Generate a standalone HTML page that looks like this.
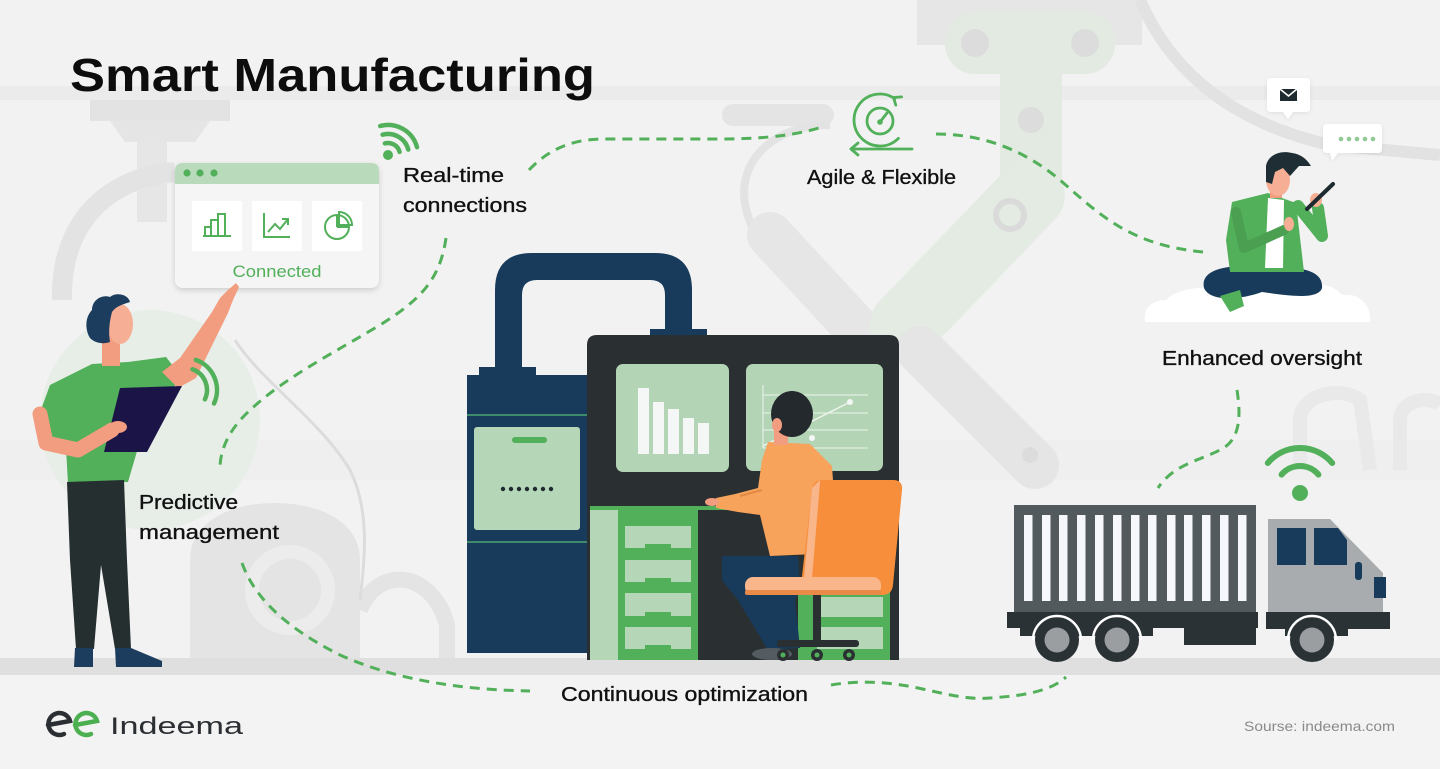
<!DOCTYPE html>
<html><head><meta charset="utf-8">
<style>
html,body{margin:0;padding:0;background:#f2f2f2;}
svg{display:block;}
text{font-family:"Liberation Sans",Arial,sans-serif;}
</style></head>
<body>
<svg width="1440" height="769" viewBox="0 0 1440 769" xmlns="http://www.w3.org/2000/svg">
<defs>
<filter id="sh" x="-10%" y="-10%" width="120%" height="130%"><feDropShadow dx="0" dy="2" stdDeviation="3" flood-color="#000" flood-opacity="0.16"/></filter>
<filter id="sh2" x="-20%" y="-20%" width="140%" height="150%"><feDropShadow dx="0" dy="1" stdDeviation="2" flood-color="#000" flood-opacity="0.08"/></filter>
</defs>
<rect width="1440" height="769" fill="#f2f2f2"/>

<!-- ===== faint background ===== -->
<rect x="0" y="86" width="1440" height="14" fill="#ebebeb"/>
<rect x="0" y="440" width="1440" height="40" fill="#efefef"/>
<rect x="90" y="100" width="140" height="21" fill="#e3e3e3"/>
<polygon points="110,121 210,121 195,142 125,142" fill="#e5e5e5"/>
<rect x="137" y="142" width="30" height="80" fill="#e6e6e6"/>
<path d="M62,300 C60,225 105,178 175,172" stroke="#e3e3e3" stroke-width="20" fill="none"/>
<circle cx="150" cy="420" r="110" fill="#e7eee7"/>
<path d="M190,660 L190,560 C190,522 230,503 275,503 C320,503 360,522 360,560 L360,660 Z" fill="#e4e4e4"/>
<circle cx="290" cy="590" r="38" stroke="#ececec" stroke-width="14" fill="none"/>
<path d="M360,610 C378,565 432,570 447,625 L447,660" stroke="#e4e4e4" stroke-width="16" fill="none"/>
<path d="M235,340 C260,380 320,420 350,470 C370,510 365,560 360,600" stroke="#dcdcdc" stroke-width="3" fill="none"/>
<rect x="722" y="104" width="112" height="22" rx="11" fill="#e4e4e4"/>
<path d="M830,125 C760,125 720,180 760,240" stroke="#e3e3e3" stroke-width="8" fill="none"/>
<line x1="770" y1="235" x2="858" y2="330" stroke="#e6e6e6" stroke-width="46" stroke-linecap="round"/>
<rect x="917" y="0" width="225" height="45" fill="#e6e6e6"/>
<rect x="945" y="12" width="170" height="62" rx="30" fill="#e2eae2"/>
<circle cx="975" cy="43" r="14" fill="#dcdcdc"/>
<circle cx="1085" cy="43" r="14" fill="#dcdcdc"/>
<rect x="1000" y="70" width="62" height="115" fill="#e2eae2"/>
<circle cx="1031" cy="120" r="13" fill="#dcdcdc"/>
<line x1="1030" y1="195" x2="905" y2="325" stroke="#e3ebe3" stroke-width="70" stroke-linecap="round"/>
<circle cx="1010" cy="215" r="14" stroke="#dadada" stroke-width="6" fill="none"/>
<line x1="920" y1="350" x2="1035" y2="465" stroke="#e5e5e5" stroke-width="48" stroke-linecap="round"/>
<circle cx="1030" cy="455" r="8" fill="#dcdcdc"/>
<path d="M1140,0 C1170,70 1230,122 1330,145 L1440,155" stroke="#e2e2e2" stroke-width="12" fill="none"/>
<path d="M1300,470 L1300,420 C1300,395 1340,385 1360,400 L1370,470" stroke="#e9e9e9" stroke-width="14" fill="none"/>
<path d="M1400,470 L1400,420 C1400,400 1430,395 1440,405" stroke="#e9e9e9" stroke-width="14" fill="none"/>
<rect x="0" y="658" width="1440" height="17" fill="#dfdfdf"/>
<rect x="0" y="675" width="1440" height="94" fill="#f3f3f3"/>

<!-- ===== dashed connectors ===== -->
<g stroke="#52b05a" stroke-width="3" fill="none" stroke-dasharray="10 7" stroke-linecap="butt">
<path d="M529,170 C548,150 570,140 600,139 L720,139 C770,139 800,134 822,127"/>
<path d="M936,134 C990,134 1030,155 1060,180 C1100,215 1130,245 1203,252"/>
<path d="M446,238 C440,280 420,300 380,325 C330,355 280,380 245,415 C225,435 220,455 220,468"/>
<path d="M242,563 C255,600 290,630 340,655 C400,682 470,690 530,691"/>
<path d="M831,685 C860,680 890,682 918,688 C950,695 970,700 990,698 C1020,696 1050,692 1066,677"/>
<path d="M1237,390 C1240,410 1242,435 1225,447 C1205,460 1175,462 1158,488"/>
</g>

<!-- ===== title & labels ===== -->
<text x="70" y="91" font-size="46" font-weight="bold" fill="#0d0d0d" textLength="525" lengthAdjust="spacingAndGlyphs">Smart Manufacturing</text>
<g font-size="20" fill="#111" stroke="#111" stroke-width="0.35">
<text x="403" y="182" textLength="101" lengthAdjust="spacingAndGlyphs">Real-time</text>
<text x="403" y="212" textLength="124" lengthAdjust="spacingAndGlyphs">connections</text>
<text x="807" y="184" textLength="149" lengthAdjust="spacingAndGlyphs">Agile &amp; Flexible</text>
<text x="1162" y="365" textLength="200" lengthAdjust="spacingAndGlyphs">Enhanced oversight</text>
<text x="139" y="509" textLength="99" lengthAdjust="spacingAndGlyphs">Predictive</text>
<text x="139" y="539" textLength="140" lengthAdjust="spacingAndGlyphs">management</text>
<text x="561" y="701" textLength="247" lengthAdjust="spacingAndGlyphs">Continuous optimization</text>
</g>

<!-- ===== card ===== -->
<g filter="url(#sh)">
<rect x="175" y="163" width="204" height="125" rx="8" fill="#f5f5f5"/>
</g>
<path d="M183,163 L371,163 Q379,163 379,171 L379,184 L175,184 L175,171 Q175,163 183,163 Z" fill="#b9dbbc"/>
<circle cx="187" cy="173" r="3.6" fill="#52b05a"/>
<circle cx="200" cy="173" r="3.6" fill="#52b05a"/>
<circle cx="214" cy="173" r="3.6" fill="#52b05a"/>
<rect x="192" y="201" width="50" height="50" fill="#ffffff"/>
<rect x="252" y="201" width="50" height="50" fill="#ffffff"/>
<rect x="312" y="201" width="50" height="50" fill="#ffffff"/>
<g stroke="#52b05a" stroke-width="2" fill="none">
<line x1="203" y1="236" x2="231" y2="236"/>
<rect x="205" y="227" width="6" height="9"/>
<rect x="211" y="220" width="7" height="16"/>
<rect x="218" y="214" width="7" height="22"/>
<polyline points="264,213 264,237 290,237"/>
<polyline points="268,232 275,224 280,229 288,219"/>
<polyline points="282,219 288,219 288,225"/>
<circle cx="337" cy="227" r="12"/>
<path d="M337,227 L337,215 M337,227 L349,227"/>
<path d="M339,225 L339,212 A13,13 0 0 1 352,225 Z"/>
</g>
<text x="277" y="277" font-size="17" fill="#52b05a" text-anchor="middle" textLength="89" lengthAdjust="spacingAndGlyphs">Connected</text>

<circle cx="388" cy="155" r="5" fill="#52b05a"/>
<g stroke="#52b05a" stroke-width="4.5" fill="none" stroke-linecap="round">
<path d="M384.9,143.4 A12,12 0 0 1 399.6,151.9"/>
<path d="M382.6,134.7 A21,21 0 0 1 408.3,149.6"/>
<path d="M380.2,126 A30,30 0 0 1 417,147.2"/>
</g>

<g stroke="#52b05a" stroke-width="2.8" fill="none" stroke-linecap="round" stroke-linejoin="round">
<circle cx="880" cy="121" r="13"/>
<line x1="880" y1="122" x2="887" y2="113"/>
<path d="M894.9,98.7 A26,26 0 1 0 898.4,138.4"/>
<polyline points="901.6,96.9 893.5,97.5 895.8,105.1"/>
<line x1="851" y1="149" x2="912" y2="149"/>
<polyline points="858,143 851,149 858,155"/>
</g>
<circle cx="880" cy="122" r="2.8" fill="#52b05a"/>

<!-- ===== left man ===== -->
<polygon points="38,418 50,385 92,364 128,362 166,357 184,380 152,400 128,482 68,484 66,448 44,440" fill="#52b05a"/>
<polygon points="162,372 180,358 212,312 220,298 228,290 236,283 239,287 233,300 228,313 196,378 178,388" fill="#f29c80"/>
<rect x="102" y="336" width="18" height="30" fill="#f29c80"/>
<ellipse cx="120" cy="324" rx="13" ry="20" fill="#f6ae94"/>
<path d="M90,338 C84,328 86,316 92,310 C92,300 102,294 110,297 C116,292 128,294 130,302 C124,304 116,306 112,312 C110,320 108,330 110,342 C104,344 96,344 90,338 Z" fill="#1c3d5e"/>
<polygon points="67,482 124,480 127,560 131,649 115,649 101,565 94,649 76,649 70,560" fill="#262f30"/>
<path d="M75,648 L93,648 L93,667 L74,667 Z" fill="#1c3d5e"/>
<path d="M115,648 L131,648 L162,661 L162,667 L116,667 Z" fill="#1c3d5e"/>
<polygon points="120,388 182,386 147,452 104,452" fill="#1b1547"/>
<path d="M40,414 L46,443 L78,450 L112,430" stroke="#f29c80" stroke-width="15" fill="none" stroke-linejoin="round" stroke-linecap="round"/>
<ellipse cx="118" cy="427" rx="9" ry="6" fill="#f29c80"/>
<g stroke="#52b05a" stroke-width="4.5" fill="none" stroke-linecap="round">
<path d="M192.5,369.3 A22,22 0 0 1 204.9,399.3"/>
<path d="M195.9,359.9 A32,32 0 0 1 214,403.5"/>
</g>

<!-- ===== center machine ===== -->
<path d="M495,372 L495,290 Q495,253 532,253 L655,253 Q692,253 692,290 L692,332 L665,332 L665,295 Q665,280 650,280 L537,280 Q522,280 522,295 L522,372 Z" fill="#183b5b"/>
<rect x="479" y="367" width="57" height="9" fill="#183b5b"/>
<rect x="650" y="329" width="57" height="8" fill="#183b5b"/>
<rect x="467" y="375" width="122" height="278" fill="#183b5b"/>
<rect x="467" y="414" width="121" height="2" fill="#3e8a6a"/>
<rect x="467" y="541" width="121" height="2" fill="#3e8a6a"/>
<rect x="474" y="427" width="106" height="103" rx="3" fill="#b5d6b7"/>
<rect x="512" y="437" width="35" height="6" rx="3" fill="#52b05a"/>
<g fill="#1f2a2e">
<circle cx="503" cy="489" r="2.2"/><circle cx="511" cy="489" r="2.2"/><circle cx="519" cy="489" r="2.2"/><circle cx="527" cy="489" r="2.2"/><circle cx="535" cy="489" r="2.2"/><circle cx="543" cy="489" r="2.2"/><circle cx="551" cy="489" r="2.2"/>
</g>
<path d="M597,335 L889,335 Q899,335 899,345 L899,660 L587,660 L587,345 Q587,335 597,335 Z" fill="#2a3032"/>
<rect x="616" y="364" width="113" height="108" rx="7" fill="#b3d4b5"/>
<rect x="746" y="364" width="137" height="107" rx="7" fill="#b3d4b5"/>
<g fill="#f4f7f5">
<rect x="638" y="388" width="11" height="66"/>
<rect x="653" y="402" width="11" height="52"/>
<rect x="668" y="409" width="11" height="45"/>
<rect x="683" y="418" width="11" height="36"/>
<rect x="698" y="423" width="11" height="31"/>
</g>
<g stroke="#eef5ef" stroke-width="1" fill="none">
<line x1="763" y1="385" x2="763" y2="448"/>
<line x1="763" y1="448" x2="868" y2="448"/>
<line x1="763" y1="395" x2="868" y2="395"/>
<line x1="763" y1="413" x2="868" y2="413"/>
<line x1="763" y1="430" x2="868" y2="430"/>
<line x1="763" y1="446" x2="850" y2="402" stroke-width="1.5"/>
</g>
<circle cx="850" cy="402" r="3" fill="#f4f7f5"/>
<circle cx="812" cy="438" r="3" fill="#f4f7f5"/>
<rect x="590" y="509" width="28" height="151" fill="#b5d6b7"/>
<rect x="618" y="509" width="80" height="151" fill="#52b05a"/>
<rect x="590" y="506" width="180" height="4" fill="#52b05a"/>
<g fill="#b5d6b7">
<rect x="625" y="526" width="66" height="22"/>
<rect x="625" y="560" width="66" height="22"/>
<rect x="625" y="593" width="66" height="23"/>
<rect x="625" y="627" width="66" height="22"/>
</g>
<g fill="#52b05a">
<rect x="645" y="544" width="26" height="4"/>
<rect x="645" y="578" width="26" height="4"/>
<rect x="645" y="612" width="26" height="4"/>
<rect x="645" y="645" width="26" height="4"/>
</g>
<rect x="798" y="592" width="92" height="68" fill="#52b05a"/>
<rect x="817" y="597" width="66" height="20" fill="#b5d6b7"/>
<rect x="817" y="627" width="66" height="22" fill="#b5d6b7"/>
<polygon points="722,556 798,556 800,590 795,600 800,648 768,650 738,600 722,580" fill="#183b5b"/>
<ellipse cx="772" cy="654" rx="20" ry="6" fill="#555c61"/>
<polygon points="768,442 810,444 832,466 838,553 770,556 760,515 738,512 716,508 716,498 735,494 758,488 762,460" fill="#f7a35b"/>
<path d="M762,490 L740,496" stroke="#e08a45" stroke-width="2" fill="none"/>
<ellipse cx="712" cy="502" rx="7" ry="4" fill="#f29c80"/>
<rect x="774" y="425" width="14" height="20" fill="#f29c80"/>
<ellipse cx="792" cy="414" rx="21" ry="23" fill="#23292c"/>
<ellipse cx="777" cy="425" rx="5" ry="7" fill="#f29c80"/>
<path d="M822,480 L893,480 Q903,480 902,490 L893,585 Q892,595 882,595 L808,595 Q800,595 801,585 L812,490 Q813,480 822,480 Z" fill="#f78e3c"/>
<path d="M820,480 L812,488 L803,590 L811,590 L820,482 Z" fill="#f9b68b"/>
<rect x="745" y="577" width="136" height="18" rx="8" fill="#f9b68b"/>
<rect x="745" y="590" width="136" height="5" rx="2" fill="#e88a48"/>
<rect x="813" y="595" width="8" height="46" fill="#2a3032"/>
<rect x="777" y="640" width="82" height="7" rx="3" fill="#2a3032"/>
<g fill="#2a3032">
<circle cx="783" cy="655" r="6"/><circle cx="817" cy="655" r="6"/><circle cx="849" cy="655" r="6"/>
</g>
<g fill="#52b05a">
<circle cx="783" cy="655" r="2.5"/><circle cx="817" cy="655" r="2.5"/><circle cx="849" cy="655" r="2.5"/>
</g>

<!-- ===== right person on cloud ===== -->
<g filter="url(#sh2)">
<path d="M1271,78 L1306,78 Q1310,78 1310,82 L1310,108 Q1310,112 1306,112 L1293,112 L1288,119 L1283,112 L1271,112 Q1267,112 1267,108 L1267,82 Q1267,78 1271,78 Z" fill="#ffffff"/>
<path d="M1327,124 L1378,124 Q1382,124 1382,128 L1382,149 Q1382,153 1378,153 L1338,153 L1332,161 L1330,153 L1327,153 Q1323,153 1323,149 L1323,128 Q1323,124 1327,124 Z" fill="#ffffff"/>
</g>
<rect x="1280" y="89" width="17" height="12" fill="#1d2a30"/>
<polyline points="1280,89 1288.5,96 1297,89" stroke="#ffffff" stroke-width="1.6" fill="none"/>
<g fill="#8fca94">
<circle cx="1341" cy="139" r="2.3"/><circle cx="1349" cy="139" r="2.3"/><circle cx="1357" cy="139" r="2.3"/><circle cx="1365" cy="139" r="2.3"/><circle cx="1373" cy="139" r="2.3"/>
</g>
<path d="M1145,322 C1143,308 1152,300 1166,300 C1178,286 1222,283 1240,295 C1250,283 1282,280 1292,293 C1302,281 1332,281 1342,295 C1358,292 1372,305 1370,322 Z" fill="#ffffff"/>
<path d="M1204,288 C1200,270 1225,264 1262,266 C1300,266 1324,270 1322,288 C1318,300 1290,296 1262,292 C1240,300 1210,302 1204,288 Z" fill="#183b5b"/>
<path d="M1220,296 L1240,290 L1244,306 L1230,312 Z" fill="#52b05a"/>
<polygon points="1232,202 1268,193 1296,203 1304,272 1230,272 1226,240" fill="#52b05a"/>
<polygon points="1268,198 1284,200 1283,268 1265,268" fill="#ffffff"/>
<path d="M1298,206 L1322,236 L1318,208" stroke="#52b05a" stroke-width="12" fill="none" stroke-linejoin="round" stroke-linecap="round"/>
<path d="M1236,212 L1244,248 L1284,230" stroke="#4a9f51" stroke-width="10" fill="none" stroke-linejoin="round" stroke-linecap="round"/>
<ellipse cx="1289" cy="224" rx="5" ry="7" fill="#f6ae94"/>
<ellipse cx="1316" cy="200" rx="6" ry="7" fill="#f6ae94"/>
<line x1="1307" y1="209" x2="1333" y2="184" stroke="#1d2a30" stroke-width="4" stroke-linecap="round"/>
<rect x="1270" y="186" width="12" height="12" fill="#f29c80"/>
<ellipse cx="1278" cy="180" rx="12" ry="16" fill="#f6ae94"/>
<path d="M1266,182 L1266,166 C1268,155 1280,150 1292,153 C1300,154 1306,158 1311,166 L1299,166 L1290,176 L1283,168 L1275,172 L1272,184 Z" fill="#1f2e35"/>

<!-- ===== truck ===== -->
<rect x="1014" y="505" width="242" height="107" fill="#535a5e"/>
<g fill="#f5f7fa">
<rect x="1024" y="515" width="8.5" height="86"/><rect x="1042" y="515" width="8.5" height="86"/><rect x="1059" y="515" width="8.5" height="86"/><rect x="1077" y="515" width="8.5" height="86"/><rect x="1095" y="515" width="8.5" height="86"/><rect x="1113" y="515" width="8.5" height="86"/><rect x="1131" y="515" width="8.5" height="86"/><rect x="1148" y="515" width="8.5" height="86"/><rect x="1167" y="515" width="8.5" height="86"/><rect x="1184" y="515" width="8.5" height="86"/><rect x="1202" y="515" width="8.5" height="86"/><rect x="1220" y="515" width="8.5" height="86"/><rect x="1238" y="515" width="8.5" height="86"/>
</g>
<polygon points="1268,519 1330,519 1383,573 1383,612 1268,612" fill="#a9acae"/>
<rect x="1277" y="528" width="29" height="37" fill="#183b5b"/>
<polygon points="1314,528 1338,528 1347,540 1347,565 1314,565" fill="#183b5b"/>
<rect x="1355" y="562" width="7" height="18" rx="3" fill="#183b5b"/>
<rect x="1374" y="577" width="12" height="21" fill="#183b5b"/>
<g fill="#2a3236">
<rect x="1007" y="612" width="251" height="16"/>
<rect x="1184" y="628" width="72" height="17"/>
<rect x="1020" y="620" width="133" height="16"/>
<rect x="1266" y="612" width="124" height="17"/>
<rect x="1285" y="620" width="63" height="16"/>
</g>
<g stroke="#ffffff" stroke-width="2.5" fill="none">
<path d="M1033,640 A24,24 0 0 1 1081,640"/>
<path d="M1093,640 A24,24 0 0 1 1141,640"/>
<path d="M1288,640 A24,24 0 0 1 1336,640"/>
</g>
<circle cx="1057" cy="640" r="22" fill="#2a3236"/>
<circle cx="1117" cy="640" r="22" fill="#2a3236"/>
<circle cx="1312" cy="640" r="22" fill="#2a3236"/>
<circle cx="1057" cy="640" r="12.5" fill="#9a9ea1"/>
<circle cx="1117" cy="640" r="12.5" fill="#9a9ea1"/>
<circle cx="1312" cy="640" r="12.5" fill="#9a9ea1"/>
<circle cx="1300" cy="493" r="8" fill="#52b05a"/>
<g stroke="#52b05a" stroke-width="6" fill="none" stroke-linecap="round">
<path d="M1281.6,474.6 A24,24 0 0 1 1318.4,474.6"/>
<path d="M1267.8,463 A42,42 0 0 1 1332.2,463"/>
</g>

<!-- ===== footer ===== -->
<g stroke-width="4.5" fill="none" stroke-linecap="round">
<path d="M48,725 L70,721 A11,11 0 1 0 64,734" stroke="#2b2f33"/>
<path d="M75,725 L97,721 A11,11 0 1 0 91,734" stroke="#4caf50"/>
</g>
<text x="110" y="734" font-size="24" fill="#2b2f33" textLength="133" lengthAdjust="spacingAndGlyphs">Indeema</text>
<text x="1244" y="731" font-size="14" fill="#8a8a8a" textLength="151" lengthAdjust="spacingAndGlyphs">Sourse: indeema.com</text>
</svg>
</body></html>
